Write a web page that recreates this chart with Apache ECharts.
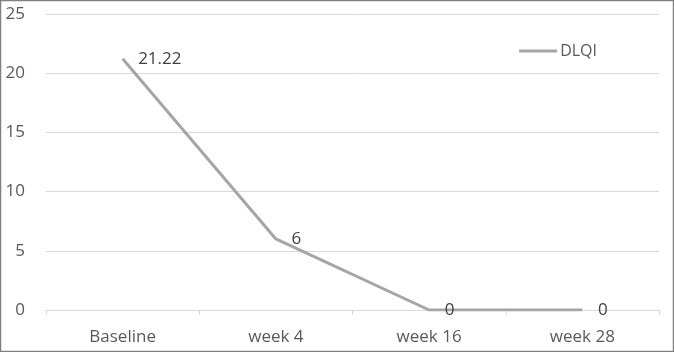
<!DOCTYPE html>
<html><head><meta charset="utf-8">
<script src="https://cdn.jsdelivr.net/npm/echarts@6/dist/echarts.min.js"></script>
<style>html,body{margin:0;padding:0;background:#fff}#c{width:674px;height:352px}</style>
</head><body><div id="c"></div>
<script>
var categories = ['Baseline', 'week 4', 'week 16', 'week 28'];
var dlqi = [21.22, 6, 0, 0];
var seriesName = 'DLQI';
var yTicks = {min: 0, max: 25, interval: 5};

var chart = echarts.init(document.getElementById('c'));
var font = '"Open Sans", sans-serif';
chart.setOption({
  animation: false,
  backgroundColor: '#fff',
  textStyle: {fontFamily: font},
  graphic: [{type: 'rect', shape: {x: 0.5, y: 0.5, width: 673, height: 351}, style: {fill: 'none', stroke: '#808080', lineWidth: 1.5}, silent: true}],
  legend: {data: [seriesName], right: 72, top: 38, icon: 'rect', itemWidth: 38, itemHeight: 3, itemGap: 4,
    itemStyle: {color: '#a5a5a5', opacity: 1},
    textStyle: {color: '#595959', fontSize: 16, fontFamily: font, padding: [0,0,0,-2]}},
  grid: {left: 46, right: 15, top: 14, bottom: 42},
  xAxis: {type: 'category', data: categories, boundaryGap: true,
    axisLine: {lineStyle: {color: '#d9d9d9', width: 1}},
    axisTick: {show: true, length: 5, lineStyle: {color: '#d9d9d9'}},
    axisLabel: {color: '#595959', fontSize: 17, margin: 19, fontFamily: font}},
  yAxis: {type: 'value', min: yTicks.min, max: yTicks.max, interval: yTicks.interval,
    axisLine: {show: false}, axisTick: {show: false},
    splitLine: {lineStyle: {color: '#d9d9d9', width: 1}},
    axisLabel: {color: '#595959', fontSize: 17, margin: 21, fontFamily: font}},
  series: [{name: seriesName, type: 'line', data: dlqi, showSymbol: true, symbol: 'circle', symbolSize: 1,
    lineStyle: {color: '#a5a5a5', width: 3}, itemStyle: {color: 'rgba(165,165,165,0)'},
    label: {show: true, position: 'right', distance: 15, color: '#404040', fontSize: 17, fontFamily: font}}]
});
</script></body></html>
